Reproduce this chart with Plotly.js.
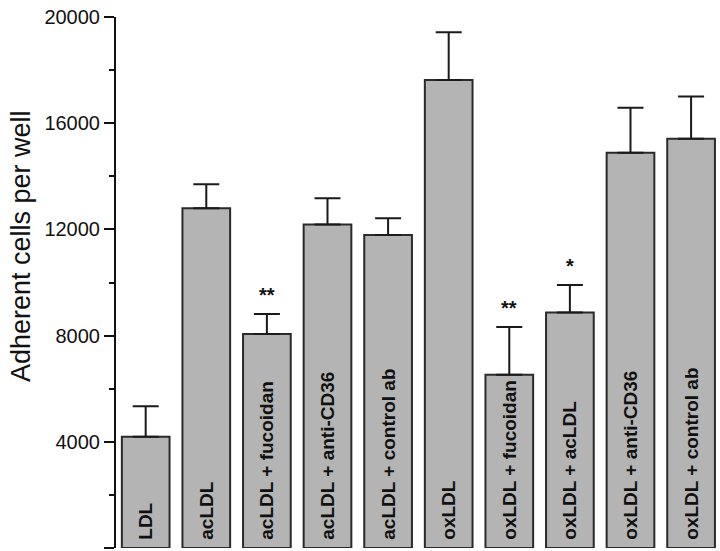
<!DOCTYPE html>
<html>
<head>
<meta charset="utf-8">
<script src="https://cdn.plot.ly/plotly-3.0.1.min.js"></script>
<style>html,body{margin:0;padding:0;background:#fff;}#chart{width:720px;height:551px;}</style>
</head>
<body>
<div id="chart"></div>
<script>
var categories = ["LDL", "acLDL", "acLDL + fucoidan", "acLDL + anti-CD36", "acLDL + control ab",
                  "oxLDL", "oxLDL + fucoidan", "oxLDL + acLDL", "oxLDL + anti-CD36", "oxLDL + control ab"];
var adherentCells = [4190, 12800, 8060, 12180, 11790, 17630, 6530, 8870, 14890, 15410];
var errorUpper = [1150, 900, 750, 990, 630, 1800, 1790, 1040, 1690, 1600];
var significance = ["", "", "**", "", "", "", "**", "*", "", ""];
var yTickVals = [0, 4000, 8000, 12000, 16000, 20000];
var yTickText = ["", "4000", "8000", "12000", "16000", "20000"];
var yTitle = "Adherent cells per well";

var zeros = adherentCells.map(function () { return 0; });

var trace = {
  type: "bar",
  x: categories,
  y: adherentCells,
  text: categories.map(function (c) { return "\u00a0" + c; }),
  textposition: "inside",
  insidetextanchor: "start",
  textangle: -90,
  constraintext: "none",
  textfont: { family: "Liberation Sans, Arial, sans-serif", size: 19, color: "#111", weight: "bold" },
  marker: { color: "#b4b4b4", line: { color: "#2a2a2a", width: 2 } },
  error_y: {
    type: "data", symmetric: false, array: errorUpper, arrayminus: zeros,
    color: "#1a1a1a", thickness: 2, width: 13
  },
  hoverinfo: "none"
};

var annotations = [];
categories.forEach(function (c, i) {
  if (significance[i]) {
    annotations.push({
      x: c, y: adherentCells[i] + errorUpper[i], xref: "x", yref: "y",
      text: significance[i], showarrow: false, yanchor: "bottom", yshift: 6,
      font: { family: "Liberation Sans, Arial, sans-serif", size: 20, color: "#111", weight: "bold" }
    });
  }
});
annotations.push({
  xref: "paper", yref: "paper", x: -0.157, y: 0.569, xanchor: "center", yanchor: "middle",
  text: yTitle, textangle: -90, showarrow: false,
  font: { family: "Liberation Sans, Arial, sans-serif", size: 27, color: "#111" }
});

var layout = {
  width: 720, height: 551,
  margin: { l: 116, r: 0, t: 17, b: 3 },
  paper_bgcolor: "#fff", plot_bgcolor: "#fff",
  showlegend: false,
  bargap: 0.213,
  font: { family: "Liberation Sans, Arial, sans-serif", color: "#111" },
  xaxis: {
    type: "category", range: [-0.49, 9.477],
    showticklabels: false, ticks: "", showline: false, showgrid: false, zeroline: false, fixedrange: true
  },
  yaxis: {
    range: [0, 20000], tickvals: yTickVals, ticktext: yTickText,
    showline: true, linecolor: "#111", linewidth: 2,
    ticks: "outside", ticklen: 10, tickwidth: 2, tickcolor: "#111",
    minor: { dtick: 2000, ticks: "outside", ticklen: 5, tickwidth: 2, tickcolor: "#111" },
    showgrid: false, zeroline: false,
    tickfont: { size: 20, color: "#111" }
  },
  annotations: annotations
};

Plotly.newPlot("chart", [trace], layout, { staticPlot: true, displayModeBar: false });
</script>
</body>
</html>
